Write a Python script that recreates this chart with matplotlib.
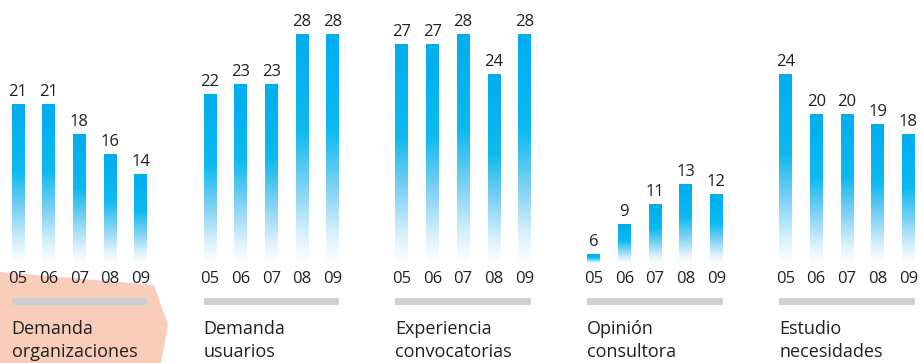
import numpy as np
import matplotlib
matplotlib.use("Agg")
import matplotlib.pyplot as plt
from matplotlib.colors import LinearSegmentedColormap
from matplotlib.patches import Polygon

# ---- data ----
groups = ["Demanda\norganizaciones", "Demanda\nusuarios", "Experiencia\nconvocatorias",
          "Opinión\nconsultora", "Estudio\nnecesidades"]
years = ["05", "06", "07", "08", "09"]
demanda_org = [21, 21, 18, 16, 14]
demanda_usu = [22, 23, 23, 28, 28]
experiencia = [27, 27, 28, 24, 28]
opinion = [6, 9, 11, 13, 12]
estudio = [24, 20, 20, 19, 18]
series = [demanda_org, demanda_usu, experiencia, opinion, estudio]

# ---- layout ----
W, H = 9.21, 3.63
fig = plt.figure(figsize=(W, H), dpi=100)
ax = fig.add_axes([0, 0, 1, 1])
ax.set_xlim(-0.586, 29.414)
ax.set_ylim(-4.9, 31.4)
ax.axis("off")

FONT = "Open Sans"
TXT = "#231f20"
GROUP_STEP = 6.25
BW = 0.41
BASE = 5.1  # value at which bars have faded to white

cmap = LinearSegmentedColormap.from_list(
    "fade",
    [(0.0, "#ffffff"), (0.12, "#dcf1fb"), (0.35, "#78cff3"),
     (0.58, "#0cbaf0"), (1.0, "#00adee")])

# orange highlight behind first label (in axes-fraction coords)
def px(xp, yp):
    return (xp / 921.0, 1 - yp / 363.0)
poly = Polygon([px(0, 272), px(154, 285), px(168, 325), px(161, 363), px(0, 363)],
               closed=True, transform=ax.transAxes, facecolor="#f9cdb9",
               edgecolor="none", zorder=0)
ax.add_patch(poly)

grad = np.linspace(0, 1, 256).reshape(-1, 1)
for g, vals in enumerate(series):
    xs = np.arange(len(years)) + g * GROUP_STEP
    bars = ax.bar(xs, vals, width=BW, color="none", edgecolor="none", zorder=2)
    for i, (x, v, b) in enumerate(zip(xs, vals, bars)):
        im = ax.imshow(grad, cmap=cmap, origin="lower", aspect="auto",
                       extent=(x - BW / 2, x + BW / 2, BASE, v),
                       interpolation="bilinear", zorder=2)
        im.set_clip_path(b)
        ax.text(x, v + 0.8, str(v), ha="center", va="baseline",
                fontsize=12, family=FONT, color=TXT, zorder=3)
        ax.text(x, 3.1, years[i], ha="center", va="baseline",
                fontsize=12, family=FONT, color=TXT, zorder=3)
    # gray rule
    ax.fill_between([xs[0] - BW / 2, xs[-1] + BW / 2], 0.9, 1.6,
                    color="#cdcfd1", linewidth=0, zorder=2)
    l1, l2 = groups[g].split("\n")
    ax.text(xs[0] - BW / 2, -2.0, l1, ha="left", va="baseline",
            fontsize=13, family=FONT, color=TXT, zorder=3)
    ax.text(xs[0] - BW / 2, -4.3, l2, ha="left", va="baseline",
            fontsize=13, family=FONT, color=TXT, zorder=3)

fig.savefig("out.png", dpi=100)
